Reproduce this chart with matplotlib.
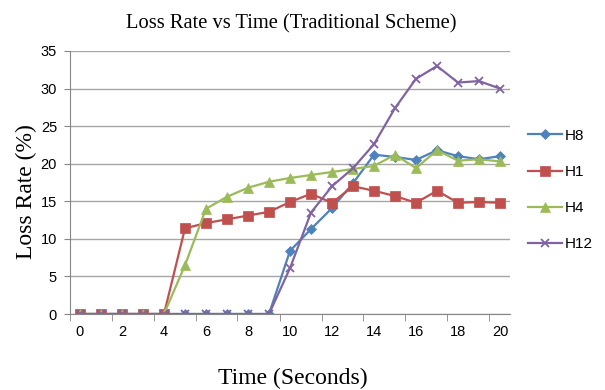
import matplotlib
matplotlib.use("Agg")
import matplotlib.pyplot as plt
import numpy as np

# time in seconds
t = list(range(21))

h8 = [0, 0, 0, 0, 0, 0, 0, 0, 0, 0, 8.4, 11.3, 14.1, 17.4, 21.2, 20.9, 20.5, 21.8, 21.0, 20.6, 21.0]
h1 = [0, 0, 0, 0, 0, 11.4, 12.1, 12.6, 13.1, 13.6, 14.9, 16.0, 14.8, 17.0, 16.4, 15.7, 14.8, 16.4, 14.8, 14.9, 14.8]
h4 = [0, 0, 0, 0, 0, 6.5, 14.0, 15.6, 16.8, 17.6, 18.1, 18.5, 18.9, 19.3, 19.7, 21.2, 19.4, 21.8, 20.4, 20.6, 20.3]
h12 = [0, 0, 0, 0, 0, 0, 0, 0, 0, 0, 6.1, 13.5, 17.0, 19.4, 22.6, 27.4, 31.3, 33.0, 30.8, 31.0, 30.0]

series = [
    ("H8", h8, "#4F81BD", "D", 5),
    ("H1", h1, "#C0504D", "s", 7),
    ("H4", h4, "#9BBB59", "^", 7),
    ("H12", h12, "#8064A2", "x", 6),
]

serif = "Liberation Serif"
sans = "Liberation Sans"

fig = plt.figure(figsize=(6.05, 3.9), dpi=100)
ax = fig.add_axes([69.5 / 605, 1 - 314 / 390, 441 / 605, 263 / 390])

for name, vals, col, mk, ms in series:
    ax.plot(t, vals, color=col, marker=mk, markersize=ms, linewidth=1.6,
            markeredgewidth=1.3 if mk == "x" else 0.5, label=name)

ax.set_xlim(-0.5, 20.5)
ax.set_ylim(0, 35)
ax.set_yticks(np.arange(0, 36, 5))
ax.set_xticks(range(0, 21, 2))
ax.set_xticks(np.arange(-0.5, 21, 2), minor=True)
ax.tick_params(axis="x", which="major", length=0, pad=8)
ax.tick_params(axis="x", which="minor", length=5, color="#868686", direction="out")
ax.tick_params(axis="y", length=4, color="#868686", direction="out", pad=5)
for lab in ax.get_xticklabels() + ax.get_yticklabels():
    lab.set_fontfamily(sans)
    lab.set_fontsize(10.5)

ax.grid(axis="y", color="#a6a6a6", linewidth=1)
ax.set_axisbelow(True)
for s in ["top", "right"]:
    ax.spines[s].set_visible(False)
ax.spines["left"].set_color("#868686")
ax.spines["bottom"].set_color("#868686")

fig.text(291 / 605, 1 - 24 / 390, "Loss Rate vs Time (Traditional Scheme)", fontfamily=serif,
         fontsize=14.8, ha="center", va="center")
fig.text(26 / 605, 1 - 192 / 390, "Loss Rate (%)", fontfamily=serif, fontsize=17,
         rotation=90, ha="center", va="center")
fig.text(293 / 605, 1 - 378 / 390, "Time (Seconds)", fontfamily=serif, fontsize=17,
         ha="center", va="center")

ax.legend(loc="center left", bbox_to_anchor=(528 / 605, 1 - 190 / 390),
          bbox_transform=fig.transFigure, frameon=False,
          prop={"family": sans, "size": 11}, handlelength=2.2, labelspacing=1.45,
          handletextpad=0.2, borderaxespad=0, borderpad=0)

fig.savefig("out.png", dpi=100)
